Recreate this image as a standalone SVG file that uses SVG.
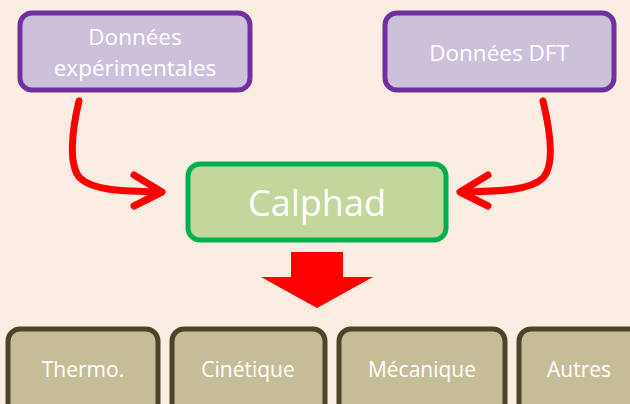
<svg xmlns="http://www.w3.org/2000/svg" width="630" height="404" viewBox="0 0 630 404">
<style>
.src rect{fill:#CCC0DA;stroke:#7030A0;stroke-width:5}
.out rect{fill:#C4BD97;stroke:#4A452A;stroke-width:5}
.calc rect{fill:#C3D69B;stroke:#00B050;stroke-width:5}
text{font-family:"Open Sans","Noto Sans",sans-serif;fill:#FFFFFF;text-anchor:middle}
.t23{font-size:22.5px}
.t21{font-size:21px}
.curve{fill:none;stroke:#FF0000;stroke-width:7;stroke-linecap:round;stroke-linejoin:round}
</style>
<rect width="630" height="404" fill="#FBEDE1"/>
<g id="donnees-exp" class="src">
<rect x="20" y="13" width="230" height="77" rx="12"/>
<text class="t23" x="135" y="45">Données</text>
<text class="t23" x="135" y="76">expérimentales</text>
</g>
<g id="donnees-dft" class="src">
<rect x="385" y="13" width="229" height="77" rx="12"/>
<text class="t23" x="499" y="61">Données DFT</text>
</g>
<g id="calphad" class="calc">
<rect x="188" y="164" width="258" height="76" rx="12"/>
<text x="317" y="216" style="font-size:36px">Calphad</text>
</g>
<g id="thermo" class="out">
<rect x="8" y="329" width="150" height="90" rx="12"/>
<text class="t21" x="83" y="377">Thermo.</text>
</g>
<g id="cinetique" class="out">
<rect x="172" y="329" width="153" height="90" rx="12"/>
<text class="t21" x="248" y="377">Cinétique</text>
</g>
<g id="mecanique" class="out">
<rect x="339" y="329" width="166" height="90" rx="12"/>
<text class="t21" x="422" y="377">Mécanique</text>
</g>
<g id="autres" class="out">
<rect x="519" y="329" width="130" height="90" rx="12"/>
<text class="t21" x="579" y="377">Autres</text>
</g>
<g id="connectors">
<path class="curve" d="M79,101 C72,130 68,165 80,178 C95,192 130,191 161,192"/>
<path class="curve" d="M134,175 L162,192 L134,206"/>
<path class="curve" d="M543,101 C550,130 555,165 543,178 C528,192 492,191 461,192"/>
<path class="curve" d="M488,175 L460,192 L488,206"/>
<polygon points="291,252 343,252 343,277 373,277 317,308 261,277 291,277" fill="#FF0000"/>
</g>
</svg>
